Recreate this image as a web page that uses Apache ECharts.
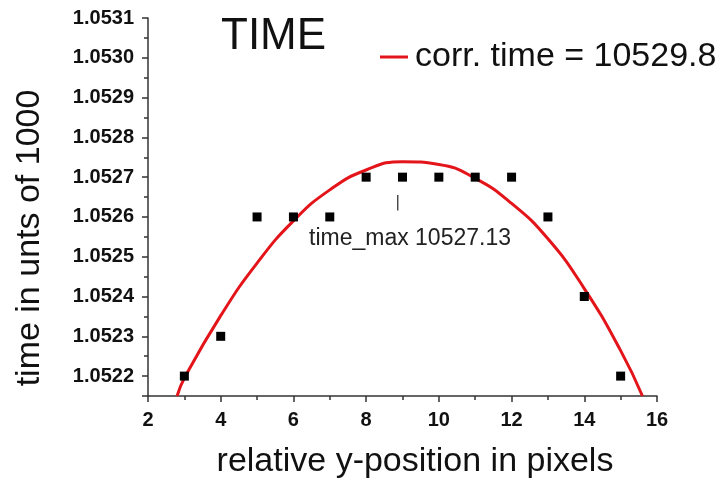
<!DOCTYPE html>
<html>
<head>
<meta charset="utf-8">
<script src="https://cdn.jsdelivr.net/npm/echarts@6/dist/echarts.min.js"></script>
<style>
  html, body { margin: 0; padding: 0; background: #fff; }
  #time-chart { width: 726px; height: 483px; }
</style>
</head>
<body>
<div id="time-chart"></div>
<script>
// measured points (x = relative y-position, y = time / 1000)
const pixelPos = [3, 4, 5, 6, 7, 8, 9, 10, 11, 12, 13, 14, 15];
const timeVals = [1.0522, 1.0523, 1.0526, 1.0526, 1.0526, 1.0527, 1.0527, 1.0527, 1.0527, 1.0527, 1.0526, 1.0524, 1.0522];

// fitted curve
const fitPos = [2.8, 3, 4, 5, 6, 7, 8, 9, 10, 11, 12, 13, 14, 15, 15.6];
const fitVals = [1.052150, 1.052195, 1.052352, 1.052484, 1.052590, 1.052668, 1.052718, 1.052739,
  1.052732, 1.052697, 1.052634, 1.052545, 1.052420, 1.052264, 1.052150];

// time_max marker
const maxPos = 8.87;
const maxTick = [1.052655, 1.052616];

const FONT = 'Arial, "Liberation Sans", sans-serif';
const fitName = 'corr. time = 10529.8';

const chart = echarts.init(document.getElementById('time-chart'));

const axisLine = { show: true, lineStyle: { color: '#333', width: 1.5 } };

chart.setOption({
  animation: false,
  backgroundColor: '#fff',
  title: {
    text: 'TIME',
    left: 216,
    top: 10,
    textStyle: { fontFamily: FONT, fontSize: 44, fontWeight: 'normal', color: '#111' }
  },
  legend: {
    data: [fitName],
    left: 375,
    top: 35,
    itemWidth: 28,
    itemHeight: 3,
    icon: 'rect',
    textStyle: { fontFamily: FONT, fontSize: 34, color: '#111', padding: [0, 0, 10, 2] }
  },
  grid: { left: 148, right: 69, top: 18, bottom: 87 },
  xAxis: {
    type: 'value',
    min: 2,
    max: 16,
    interval: 2,
    axisLine: axisLine,
    axisTick: { show: true, inside: false, length: 6, lineStyle: { color: '#333', width: 1.5 } },
    minorTick: { show: true, splitNumber: 2, length: 4, lineStyle: { color: '#333', width: 1.5 } },
    splitLine: { show: false },
    axisLabel: { fontFamily: FONT, fontSize: 20, fontWeight: 'bold', color: '#111', margin: 14 }
  },
  yAxis: {
    type: 'value',
    min: 1.05215,
    max: 1.0531,
    splitNumber: 10,
    minInterval: 0.0001,
    maxInterval: 0.0001,
    axisLine: axisLine,
    axisTick: { show: true, inside: false, length: 6, lineStyle: { color: '#333', width: 1.5 } },
    minorTick: { show: true, splitNumber: 2, length: 4, lineStyle: { color: '#333', width: 1.5 } },
    splitLine: { show: false },
    axisLabel: {
      fontFamily: FONT, fontSize: 20, fontWeight: 'bold', color: '#111', margin: 14,
      showMinLabel: false,
      formatter: v => v.toFixed(4)
    }
  },
  series: [
    {
      name: fitName,
      type: 'line',
      data: fitPos.map((x, i) => [x, fitVals[i]]),
      smooth: true,
      showSymbol: false,
      lineStyle: { color: '#e3141a', width: 3 },
      itemStyle: { color: '#e3141a' },
      z: 2
    },
    {
      name: 'time',
      type: 'scatter',
      data: pixelPos.map((x, i) => [x, timeVals[i]]),
      symbol: 'rect',
      symbolSize: 9,
      itemStyle: { color: '#000', opacity: 1 },
      z: 3
    }
  ]
});

const tickTop = chart.convertToPixel({ gridIndex: 0 }, [maxPos, maxTick[0]]);
const tickBot = chart.convertToPixel({ gridIndex: 0 }, [maxPos, maxTick[1]]);

chart.setOption({
  graphic: [
    {
      type: 'line',
      shape: { x1: tickTop[0], y1: tickTop[1], x2: tickBot[0], y2: tickBot[1] },
      style: { stroke: '#222', lineWidth: 1.2 }
    },
    {
      type: 'text',
      x: 410,
      y: 239,
      style: {
        text: 'time_max 10527.13',
        font: '23px ' + FONT,
        fill: '#222',
        textAlign: 'center',
        textVerticalAlign: 'middle'
      }
    },
    {
      type: 'text',
      x: 30,
      y: 238,
      rotation: Math.PI / 2,
      style: {
        text: 'time in unts of 1000',
        font: '34px ' + FONT,
        fill: '#111',
        textAlign: 'center',
        textVerticalAlign: 'middle'
      }
    },
    {
      type: 'text',
      x: 415,
      y: 462,
      style: {
        text: 'relative y-position in pixels',
        font: '34px ' + FONT,
        fill: '#111',
        textAlign: 'center',
        textVerticalAlign: 'middle'
      }
    }
  ]
});
</script>
</body>
</html>
